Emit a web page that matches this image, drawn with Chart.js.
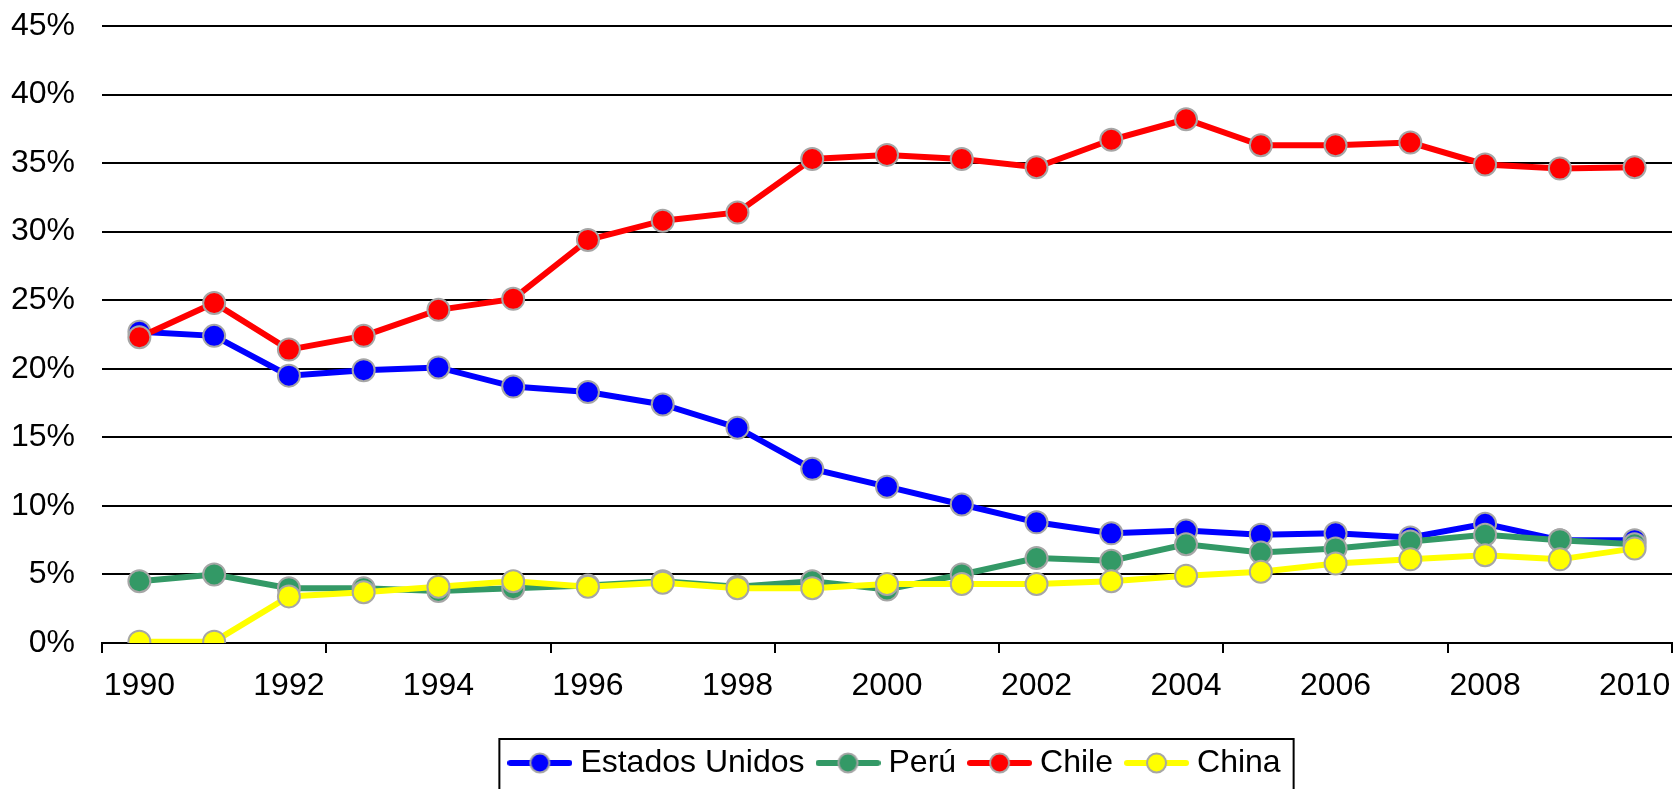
<!DOCTYPE html>
<html>
<head>
<meta charset="utf-8">
<script src="https://cdn.jsdelivr.net/npm/chart.js@4.4.1/dist/chart.umd.min.js"></script>
<style>
  html, body { margin: 0; padding: 0; background: #fff; }
  #wrap { width: 1675px; height: 789px; }
</style>
</head>
<body>
<div id="wrap"><canvas id="c" width="1675" height="789"></canvas></div>
<script>
// --- data ---
const years = ['1990', '1991', '1992', '1993', '1994', '1995', '1996', '1997', '1998', '1999', '2000',
               '2001', '2002', '2003', '2004', '2005', '2006', '2007', '2008', '2009', '2010'];

const estadosUnidos = [22.7, 22.4, 19.5, 19.9, 20.1, 18.7, 18.3, 17.4, 15.7, 12.7, 11.4,
                       10.1, 8.8, 8.0, 8.2, 7.9, 8.0, 7.7, 8.7, 7.5, 7.5];
const peru          = [4.5, 5.0, 4.0, 4.0, 3.8, 4.0, 4.2, 4.5, 4.1, 4.5, 3.9,
                       5.0, 6.2, 6.0, 7.2, 6.6, 6.9, 7.4, 7.9, 7.5, 7.2];
const chile         = [22.3, 24.8, 21.4, 22.4, 24.3, 25.1, 29.4, 30.8, 31.4, 35.3, 35.6,
                       35.3, 34.7, 36.7, 38.2, 36.3, 36.3, 36.5, 34.9, 34.6, 34.7];
const china         = [0.1, 0.1, 3.4, 3.7, 4.1, 4.5, 4.1, 4.4, 4.0, 4.0, 4.3,
                       4.3, 4.3, 4.5, 4.9, 5.2, 5.8, 6.1, 6.4, 6.1, 6.9];

const yTicks = [0, 5, 10, 15, 20, 25, 30, 35, 40, 45];

const FONT = "'Liberation Sans', Arial, sans-serif";
const FONT_SIZE = 32;
const MARKER_EDGE = '#a6a6a6';

// legend sample: line with a circle marker in the middle
function legendIcon(color) {
    const cv = document.createElement('canvas');
    cv.width = 65; cv.height = 26;
    const g = cv.getContext('2d');
    g.strokeStyle = color;
    g.lineWidth = 6;
    g.lineCap = 'round';
    g.beginPath(); g.moveTo(3, 13); g.lineTo(62, 13); g.stroke();
    g.beginPath(); g.arc(32.5, 13, 9.5, 0, Math.PI * 2);
    g.fillStyle = color; g.fill();
    g.lineWidth = 2; g.strokeStyle = MARKER_EDGE; g.stroke();
    return cv;
}

function series(label, data, color, order) {
    return {
        label, data, order,
        borderColor: color,
        backgroundColor: color,
        borderWidth: 6,
        pointRadius: 11,
        pointHoverRadius: 11,
        pointBorderWidth: 2,
        pointBorderColor: MARKER_EDGE,
        pointBackgroundColor: color,
        tension: 0,
        icon: legendIcon(color)
    };
}

const datasets = [
    series('Estados Unidos', estadosUnidos, '#0000ff', 4),
    series('Perú', peru, '#339966', 3),
    series('Chile', chile, '#ff0000', 2),
    series('China', china, '#ffff00', 1)
];

// nudge the legend a bit right and frame it, open at the bottom like the reference crop
const legendFrame = {
    id: 'legendFrame',
    afterLayout(chart) {
        chart.legend.left += 11;
        chart.legend.right += 11;
    },
    afterDraw(chart) {
        const boxes = chart.legend && chart.legend.legendHitBoxes;
        if (!boxes || !boxes.length) return;
        const first = boxes[0], last = boxes[boxes.length - 1];
        const left = first.left - 16;
        const right = last.left + last.width + 13;
        const top = first.top + first.height / 2 - 24;
        const ctx = chart.ctx;
        ctx.save();
        ctx.strokeStyle = '#000';
        ctx.lineWidth = 2;
        ctx.strokeRect(left, top, right - left, chart.height - top + 10);
        ctx.restore();
    }
};

new Chart(document.getElementById('c'), {
    type: 'line',
    data: { labels: years, datasets },
    plugins: [legendFrame],
    options: {
        responsive: false,
        devicePixelRatio: 1,
        animation: false,
        events: [],
        layout: { autoPadding: false, padding: { top: 26, right: 3, left: 0, bottom: 0 } },
        plugins: {
            tooltip: { enabled: false },
            legend: {
                position: 'bottom',
                fullSize: false,
                labels: {
                    usePointStyle: true,
                    pointStyleWidth: 49,
                    padding: 19,
                    color: '#000',
                    font: { family: FONT, size: FONT_SIZE },
                    sort: (a, b) => a.datasetIndex - b.datasetIndex,
                    generateLabels(chart) {
                        return Chart.defaults.plugins.legend.labels.generateLabels(chart).map(l => ({
                            ...l, pointStyle: chart.data.datasets[l.datasetIndex].icon
                        }));
                    }
                }
            }
        },
        scales: {
            x: {
                offset: true,
                afterFit(scale) { scale.height = 85; scale.paddingLeft = 0; scale.paddingRight = 0; },
                border: { display: true, color: '#000', width: 2 },
                grid: {
                    offset: true,
                    drawOnChartArea: false,
                    drawTicks: true,
                    tickLength: 10,
                    lineWidth: 2,
                    color: ctx => (ctx.index === undefined || ctx.index % 3 === 0) ? '#000' : 'rgba(0,0,0,0)'
                },
                ticks: {
                    autoSkip: false,
                    maxRotation: 0,
                    padding: 14,
                    color: '#000',
                    font: { family: FONT, size: FONT_SIZE },
                    callback(v, i) { return i % 2 === 0 ? years[i] : ''; }
                }
            },
            y: {
                min: yTicks[0],
                max: yTicks[yTicks.length - 1],
                afterFit(scale) { scale.width = 102; scale.paddingTop = 0; scale.paddingBottom = 0; },
                afterBuildTicks(scale) { scale.ticks = yTicks.map(v => ({ value: v })); },
                border: { display: false },
                grid: { color: '#000', lineWidth: 2, drawTicks: false },
                ticks: {
                    padding: 27,
                    color: '#000',
                    font: { family: FONT, size: FONT_SIZE },
                    callback: v => v + '%'
                }
            }
        }
    }
});
</script>
</body>
</html>
